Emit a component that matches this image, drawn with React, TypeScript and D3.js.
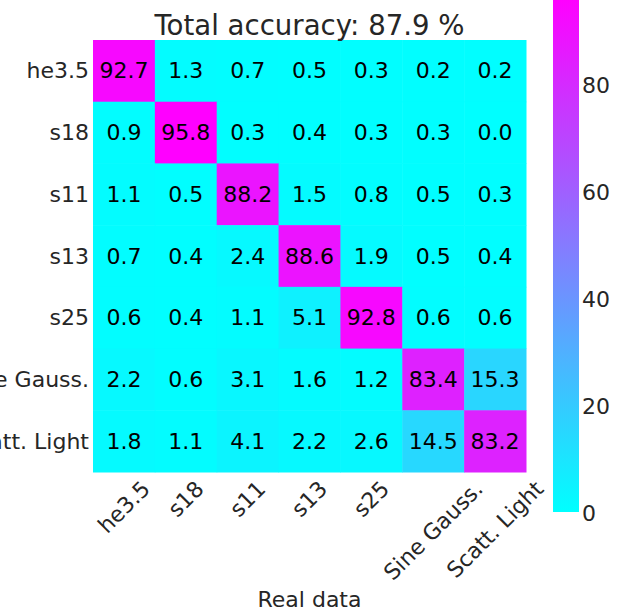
import React, { useEffect, useRef } from "react";
import * as d3 from "d3";

const predLabels = ["he3.5", "s18", "s11", "s13", "s25", "Sine Gauss.", "Scatt. Light"];
const realLabels = ["he3.5", "s18", "s11", "s13", "s25", "Sine Gauss.", "Scatt. Light"];
const rowHe35 = [92.7, 1.3, 0.7, 0.5, 0.3, 0.2, 0.2];
const rowS18 = [0.9, 95.8, 0.3, 0.4, 0.3, 0.3, 0.0];
const rowS11 = [1.1, 0.5, 88.2, 1.5, 0.8, 0.5, 0.3];
const rowS13 = [0.7, 0.4, 2.4, 88.6, 1.9, 0.5, 0.4];
const rowS25 = [0.6, 0.4, 1.1, 5.1, 92.8, 0.6, 0.6];
const rowSine = [2.2, 0.6, 3.1, 1.6, 1.2, 83.4, 15.3];
const rowScatt = [1.8, 1.1, 4.1, 2.2, 2.6, 14.5, 83.2];
const matrix = [rowHe35, rowS18, rowS11, rowS13, rowS25, rowSine, rowScatt];
const colorbarTicks = [0, 20, 40, 60, 80];
const titleText = "Total accuracy: 87.9 %";
const xAxisTitle = "Real data";

const W = 619;
const H = 613;
const FONT = "DejaVu Sans, sans-serif";
const LABEL = "#262626";

function cool(v: number, vmax: number) {
  const t = Math.max(0, Math.min(1, v / vmax));
  return d3.rgb(255 * t, 255 * (1 - t), 255).formatHex();
}

export default function App() {
  const ref = useRef<SVGSVGElement>(null);

  useEffect(() => {
    const svg = d3.select(ref.current);
    svg.selectAll("*").remove();

    const left = 93, right = 526, top = 40, bottom = 472;
    const vmax = d3.max(matrix.flat()) as number;

    const x = d3.scaleBand<string>().domain(realLabels).range([left, right]);
    const y = d3.scaleBand<string>().domain(predLabels).range([top, bottom]);

    const cells: { r: number; c: number; v: number }[] = [];
    matrix.forEach((row, r) => row.forEach((v, c) => cells.push({ r, c, v })));

    const g = svg.append("g");
    g.selectAll("rect.cell")
      .data(cells)
      .join("rect")
      .attr("class", "cell")
      .attr("x", (d) => x(realLabels[d.c])!)
      .attr("y", (d) => y(predLabels[d.r])!)
      .attr("width", x.bandwidth() + 0.5)
      .attr("height", y.bandwidth() + 0.5)
      .attr("fill", (d) => cool(d.v, vmax));

    g.selectAll("text.val")
      .data(cells)
      .join("text")
      .attr("class", "val")
      .attr("x", (d) => x(realLabels[d.c])! + x.bandwidth() / 2)
      .attr("y", (d) => y(predLabels[d.r])! + y.bandwidth() / 2)
      .attr("text-anchor", "middle")
      .attr("dominant-baseline", "central")
      .attr("font-family", FONT)
      .attr("font-size", 22)
      .attr("fill", "#000")
      .text((d) => d.v.toFixed(1));

    // y tick labels
    svg.append("g")
      .selectAll("text")
      .data(predLabels)
      .join("text")
      .attr("x", left - 4)
      .attr("y", (d) => y(d)! + y.bandwidth() / 2)
      .attr("text-anchor", "end")
      .attr("dominant-baseline", "central")
      .attr("font-family", FONT)
      .attr("font-size", 22)
      .attr("fill", LABEL)
      .text((d) => d);

    // x tick labels rotated 45, centered
    const fh = 22 * 1.164;
    const xt = svg.append("g");
    realLabels.forEach((lab) => {
      const t = xt.append("text")
        .attr("text-anchor", "middle")
        .attr("dominant-baseline", "central")
        .attr("font-family", FONT)
        .attr("font-size", 22)
        .attr("fill", LABEL)
        .text(lab);
      const w = (t.node() as SVGTextElement).getComputedTextLength();
      const cx = x(lab)! + x.bandwidth() / 2;
      const cy = bottom + 4 + (w + fh) / (2 * Math.SQRT2);
      t.attr("transform", `translate(${cx},${cy}) rotate(-45)`);
    });

    // title
    svg.append("text")
      .attr("x", (left + right) / 2)
      .attr("y", 35)
      .attr("text-anchor", "middle")
      .attr("font-family", FONT)
      .attr("font-size", 27.6)
      .attr("fill", LABEL)
      .text(titleText);

    // x axis title
    svg.append("text")
      .attr("x", (left + right) / 2)
      .attr("y", 607)
      .attr("text-anchor", "middle")
      .attr("font-family", FONT)
      .attr("font-size", 22)
      .attr("fill", LABEL)
      .text(xAxisTitle);

    // colorbar
    const cbX = 553, cbW = 26, cbBottom = 512;
    const cy = d3.scaleLinear().domain([0, vmax]).range([cbBottom, cbBottom - vmax * 5.35]);
    const defs = svg.append("defs");
    const grad = defs.append("linearGradient")
      .attr("id", "coolgrad")
      .attr("x1", 0).attr("y1", 1).attr("x2", 0).attr("y2", 0);
    d3.range(0, 1.0001, 0.1).forEach((t) => {
      grad.append("stop").attr("offset", t).attr("stop-color", cool(t * vmax, vmax));
    });
    svg.append("rect")
      .attr("x", cbX)
      .attr("y", cy(vmax))
      .attr("width", cbW)
      .attr("height", cy(0) - cy(vmax))
      .attr("fill", "url(#coolgrad)");
    svg.append("g")
      .selectAll("text")
      .data(colorbarTicks)
      .join("text")
      .attr("x", cbX + cbW + 3)
      .attr("y", (d) => cy(d) + 1)
      .attr("dominant-baseline", "central")
      .attr("font-family", FONT)
      .attr("font-size", 22)
      .attr("fill", LABEL)
      .text((d) => String(d));
  }, []);

  return (
    <svg
      ref={ref}
      width={W}
      height={H}
      style={{ position: "absolute", left: 0, top: 0, background: "#fff" }}
    />
  );
}
